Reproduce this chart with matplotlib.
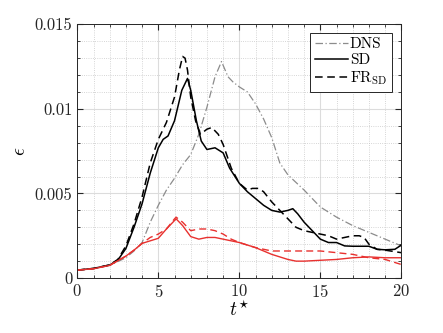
import matplotlib.pyplot as plt
from matplotlib.ticker import MultipleLocator, FuncFormatter

plt.rcParams['font.family'] = 'serif'
plt.rcParams['font.serif'] = ['cmr10']
plt.rcParams['mathtext.fontset'] = 'cm'
plt.rcParams['axes.formatter.use_mathtext'] = True

# --- data ---
t_dns = [0, 1, 2, 3, 3.5, 4, 4.5, 5, 5.5, 6, 6.5, 7, 7.5, 8, 8.5, 8.9, 9.3,
         9.6, 10, 10.5, 11, 11.5, 12, 12.5, 13, 14, 15, 16, 17, 18, 19, 20]
eps_dns = [0.00045, 0.00055, 0.00075, 0.0012, 0.0016, 0.0021, 0.0033,
           0.0043, 0.0052, 0.0059, 0.0067, 0.0073, 0.0085, 0.0101, 0.0119,
           0.0128, 0.0119, 0.0116, 0.0113, 0.0110, 0.0103, 0.0094, 0.0083,
           0.0068, 0.0061, 0.0052, 0.0042, 0.0036, 0.0031, 0.0027, 0.0023,
           0.0019]

t_sd = [0, 1, 2, 2.5, 3, 3.5, 4, 4.5, 5, 5.3, 5.6, 6, 6.45, 6.8, 7, 7.35,
        7.65, 8, 8.5, 9, 9.4, 10, 10.5, 11, 11.5, 12, 12.5, 13, 13.3, 13.6,
        14, 14.5, 15, 15.5, 16, 16.5, 17, 18, 18.5, 19, 19.6, 20]
eps_sd = [0.00047, 0.00057, 0.00077, 0.00106, 0.00175, 0.003, 0.0044, 0.0062,
          0.0077, 0.0082, 0.0084, 0.0093, 0.0111, 0.0118, 0.0111, 0.0093,
          0.0081, 0.0076, 0.0077, 0.0074, 0.0065, 0.0056, 0.0051, 0.0047,
          0.0043, 0.0040, 0.0039, 0.0040, 0.0041, 0.0038, 0.0033, 0.0028,
          0.0023, 0.0021, 0.0021, 0.0019, 0.00188, 0.00188, 0.0017, 0.00167,
          0.0017, 0.00195]

t_fr = [0, 1, 2, 2.5, 3, 3.5, 4, 4.5, 5, 5.5, 6, 6.3, 6.5, 6.65, 6.8, 7,
        7.3, 7.6, 8, 8.3, 8.7, 9, 9.5, 10, 10.5, 10.8, 11.2, 11.5, 12, 12.5,
        13, 13.5, 14, 14.5, 15, 15.5, 16, 16.5, 17, 17.4, 17.7, 18, 18.5, 19,
        20]
eps_fr = [0.00047, 0.00057, 0.00078, 0.0011, 0.0019, 0.0032, 0.0048, 0.0068,
          0.0082, 0.0092, 0.0107, 0.0123, 0.0131, 0.0130, 0.0123, 0.0107,
          0.0093, 0.0085, 0.0088, 0.0089, 0.0085, 0.0079, 0.0065, 0.0056,
          0.0052, 0.0053, 0.0053, 0.0051, 0.0045, 0.0040, 0.0035, 0.0030,
          0.0028, 0.0027, 0.0026, 0.0025, 0.0023, 0.0024, 0.0025, 0.0025,
          0.0024, 0.0020, 0.0017, 0.00165, 0.0015]

t_sd_m = [0, 1, 2, 3, 3.5, 4, 4.5, 5, 5.5, 6, 6.1, 6.5, 7, 7.5, 8, 8.5, 9,
          9.5, 10, 11, 12, 13, 13.5, 14, 15, 16, 17, 18, 19, 20]
eps_sd_m = [0.00047, 0.00055, 0.00075, 0.0013, 0.00165, 0.00205, 0.0022,
            0.00235, 0.0029, 0.0034, 0.0035, 0.0031, 0.00245, 0.0023, 0.0024,
            0.0024, 0.0023, 0.0022, 0.0021, 0.0018, 0.0014, 0.0011, 0.001,
            0.001, 0.00105, 0.0011, 0.0012, 0.00125, 0.0012, 0.0012]

t_fr_m = [0, 1, 2, 3, 3.5, 4, 4.5, 5, 5.5, 6, 6.1, 6.5, 7, 7.5, 8, 8.5, 9,
          9.5, 10, 11, 12, 13, 14, 15, 16, 17, 18, 19, 20]
eps_fr_m = [0.00047, 0.00055, 0.00075, 0.0013, 0.00165, 0.00205, 0.0024,
            0.0026, 0.0029, 0.0035, 0.0036, 0.0033, 0.0028, 0.0029, 0.0029,
            0.0028, 0.0026, 0.0023, 0.0021, 0.0018, 0.0016, 0.0016, 0.0016,
            0.0016, 0.0015, 0.0014, 0.0012, 0.0011, 0.0008]

fig = plt.figure(figsize=(4.43, 3.33), dpi=100)
ax = fig.add_axes([0.1745, 0.165, 0.7315, 0.762])

red = '#e8312f'
kw = dict(solid_joinstyle='round', dash_joinstyle='round')
ax.plot(t_dns, eps_dns, color='#8c8c8c', lw=0.9, ls=(0, (6, 2, 1, 2)), label='DNS', **kw)
ax.plot(t_sd, eps_sd, color='black', lw=1.1, ls='-', label='SD', **kw)
ax.plot(t_fr, eps_fr, color='black', lw=1.1, ls=(0, (5, 3)), label=r'FR$_{\rm SD}$', **kw)
ax.plot(t_sd_m, eps_sd_m, color=red, lw=1.0, ls='-', **kw)
ax.plot(t_fr_m, eps_fr_m, color=red, lw=1.0, ls=(0, (5, 3)), **kw)

ax.set_xlim(0, 20)
ax.set_ylim(0, 0.015)
ax.xaxis.set_major_locator(MultipleLocator(5))
ax.xaxis.set_minor_locator(MultipleLocator(1))
ax.yaxis.set_major_locator(MultipleLocator(0.005))
ax.yaxis.set_minor_locator(MultipleLocator(0.001))
ax.yaxis.set_major_formatter(FuncFormatter(lambda v, p: '0' if v == 0 else ('%g' % v)))

ax.grid(which='major', color='#dcdcdc', lw=0.8, ls='-')
ax.grid(which='minor', color='#c8c8c8', lw=0.6, ls=':')
ax.set_axisbelow(True)
ax.tick_params(which='both', direction='in', top=True, right=True,
               colors='#262626', labelsize=12)
ax.tick_params(which='major', length=4)
ax.tick_params(which='minor', length=2)
for s in ax.spines.values():
    s.set_color('#262626')
    s.set_linewidth(0.7)

ax.set_xlabel(r'$t^{\star}$', fontsize=14, labelpad=0)
ax.set_ylabel(r'$\epsilon$', fontsize=14, labelpad=4)

leg = ax.legend(loc='upper right', fontsize=11, handlelength=2.2, handletextpad=0.1,
                borderpad=0.3, labelspacing=0.15, fancybox=False, borderaxespad=0,
                edgecolor='#262626', framealpha=1, bbox_to_anchor=(0.971, 0.966))
leg.get_frame().set_linewidth(0.7)

fig.savefig('out.png', dpi=100)
